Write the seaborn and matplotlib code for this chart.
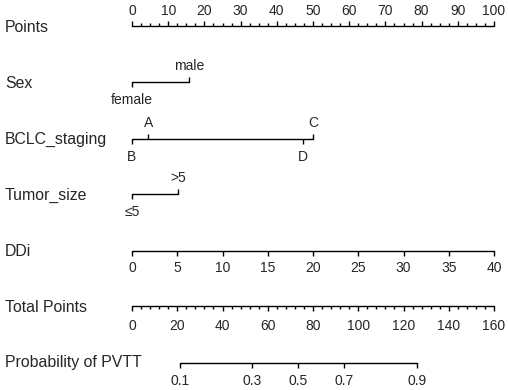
import numpy as np
import pandas as pd
import matplotlib
matplotlib.use("Agg")
import matplotlib.pyplot as plt
import seaborn as sns

# ---- data ----
row_names = ["Points", "Sex", "BCLC_staging", "Tumor_size", "DDi", "Total Points", "Probability of PVTT"]

points_ticks = [0, 10, 20, 30, 40, 50, 60, 70, 80, 90, 100]

sex_levels = ["female", "male"]
sex_points = [0.0, 15.7]

bclc_levels = ["B", "A", "D", "C"]
bclc_points = [0.0, 4.5, 47.3, 50.1]

tumor_levels = ["\u22645", ">5"]
tumor_points = [0.0, 12.8]

ddi_values = [0, 5, 10, 15, 20, 25, 30, 35, 40]
ddi_points = [0.0, 12.5, 25.0, 37.5, 50.0, 62.5, 75.0, 87.5, 100.0]

total_ticks = [0, 20, 40, 60, 80, 100, 120, 140, 160]

prob_labels = ["0.1", "0.3", "0.5", "0.7", "0.9"]
prob_total_points = [21.2, 53.2, 73.5, 93.8, 125.8]

# ---- layout (pixel rows) ----
W, H, DPI = 508, 390, 100
X0, PPX = 132.0, 3.62           # pixel of 0 points, pixels per point
row_y = [25.5, 82, 139, 194, 250.5, 306, 362.5]
lab_y = [27, 84, 139, 195, 251, 308, 362]

sns.set_theme(style="white")
plt.rcParams["font.family"] = ["Liberation Sans", "DejaVu Sans"]

fig = plt.figure(figsize=(W / DPI, H / DPI), dpi=DPI)
ax = fig.add_axes([0, 0, 1, 1])
ax.set_xlim(-X0 / PPX, (W - X0) / PPX)
ax.set_ylim(H, 0)
ax.axis("off")

LW = 1.0
LAB_FS = 11.4
TICK_FS = 10.0

def seg(x0, x1, y):
    df = pd.DataFrame({"x": [x0, x1], "y": [y, y]})
    sns.lineplot(data=df, x="x", y="y", ax=ax, color="black", lw=LW,
                 sort=False, estimator=None)

def vt(x, y, length):
    ax.plot([x, x], [y, y + length], color="black", lw=LW, solid_capstyle="butt")

# row labels
for name, y in zip(row_names, lab_y):
    ax.text(-X0 / PPX + 5 / PPX, y, name, ha="left", va="center", fontsize=LAB_FS)

# Points axis (ticks up, labels above)
y = row_y[0]
seg(0, 100, y)
for v in np.arange(0, 100.01, 2.5):
    major = abs(v / 10 - round(v / 10)) < 1e-9
    vt(v, y, -4.8 if major else -3.0)
for v in points_ticks:
    ax.text(v, y - 14.8, str(v), ha="center", va="center", fontsize=TICK_FS)

# categorical rows: alternate labels below/above
def cat_row(levels, pts, y, above_flags):
    seg(min(pts), max(pts), y)
    for lev, p, up in zip(levels, pts, above_flags):
        if up:
            vt(p, y, -5)
            ax.text(p, y - 16.0, lev, ha="center", va="center", fontsize=TICK_FS)
        else:
            vt(p, y, 5)
            ax.text(p, y + 18.0, lev, ha="center", va="center", fontsize=TICK_FS)

cat_row(sex_levels, sex_points, row_y[1], [False, True])
cat_row(bclc_levels, bclc_points, row_y[2], [False, True, False, True])
cat_row(tumor_levels, tumor_points, row_y[3], [False, True])

# DDi
y = row_y[4]
seg(ddi_points[0], ddi_points[-1], y)
for v, p in zip(ddi_values, ddi_points):
    vt(p, y, 5)
    ax.text(p, y + 18.0, str(v), ha="center", va="center", fontsize=TICK_FS)

# Total points
y = row_y[5]
scale = 100.0 / 160.0
seg(0, 100, y)
for v in np.arange(0, 160.01, 4):
    major = v % 20 == 0
    vt(v * scale, y, 5.0 if major else 3.0)
for v in total_ticks:
    ax.text(v * scale, y + 20, str(v), ha="center", va="center", fontsize=TICK_FS)

# Probability
y = row_y[6]
seg(prob_total_points[0] * scale, prob_total_points[-1] * scale, y)
for lab, tp in zip(prob_labels, prob_total_points):
    vt(tp * scale, y, 5)
    ax.text(tp * scale, y + 18.5, lab, ha="center", va="center", fontsize=TICK_FS)

fig.savefig("out.png", dpi=DPI, facecolor="white")
